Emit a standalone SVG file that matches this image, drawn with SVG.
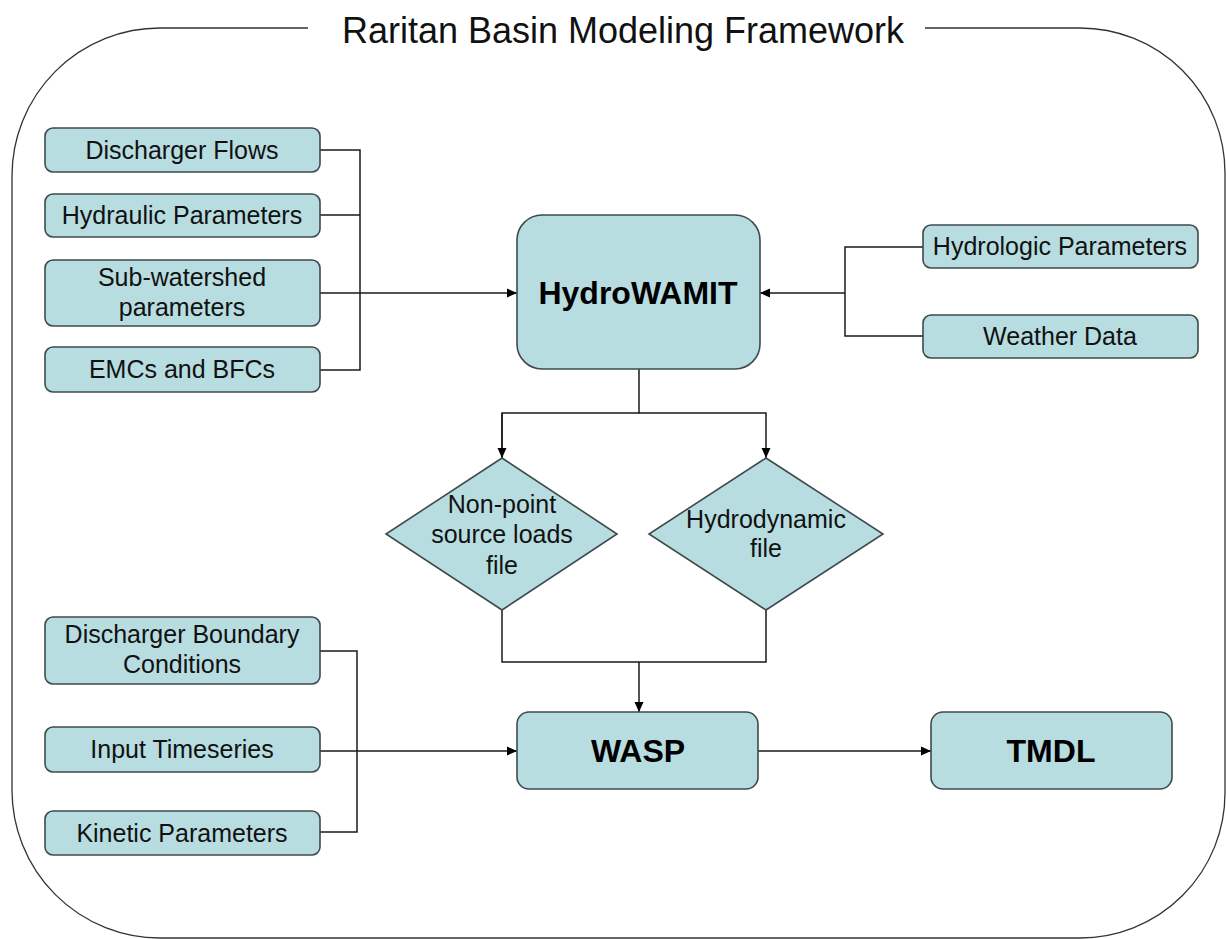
<svg xmlns="http://www.w3.org/2000/svg" width="1226" height="939" viewBox="0 0 1226 939">
<style>
.box{fill:#b7dde1;stroke:#3f4a4c;stroke-width:1.6}
.t{font-family:"Liberation Sans",Arial,sans-serif;font-size:25px;fill:#111;text-anchor:middle}
.b{font-family:"Liberation Sans",Arial,sans-serif;font-size:32px;font-weight:bold;fill:#000;text-anchor:middle}
.ln{fill:none;stroke:#1a1a1a;stroke-width:1.5}
.frame{fill:none;stroke:#333;stroke-width:1.3}
</style>
<defs>
<marker id="ah" viewBox="0 0 10 10" refX="10" refY="5" markerWidth="10" markerHeight="10" markerUnits="userSpaceOnUse" orient="auto">
<path d="M0,0.5 L10,5 L0,9.5 Z" fill="#000"/>
</marker>
</defs>
<rect width="1226" height="939" fill="#fff"/>
<g id="frame">
<path class="frame" d="M308 28 H160 A148 148 0 0 0 12 176 V790 A148 148 0 0 0 160 938 H1080 A145 145 0 0 0 1225 793 V173 A145 145 0 0 0 1080 28 H925"/>
<text x="623" y="43" font-family="'Liberation Sans',Arial,sans-serif" font-size="36" fill="#111" text-anchor="middle">Raritan Basin Modeling Framework</text>
</g>
<g id="connectors">
<path class="ln" d="M320 150 H360 V370 H320 M320 215 H360"/>
<path class="ln" d="M320 293 H517" marker-end="url(#ah)"/>
<path class="ln" d="M923 247 H845 V336 H923"/>
<path class="ln" d="M845 293 H760" marker-end="url(#ah)"/>
<path class="ln" d="M639 369 V413 H502 V458 M639 413"/>
<path class="ln" d="M502 413 V458" marker-end="url(#ah)"/>
<path class="ln" d="M639 413 H766 V458" marker-end="url(#ah)"/>
<path class="ln" d="M502 610 V662 H766 V610"/>
<path class="ln" d="M639 662 V712" marker-end="url(#ah)"/>
<path class="ln" d="M320 651 H357 V832 H320"/>
<path class="ln" d="M320 751 H517" marker-end="url(#ah)"/>
<path class="ln" d="M758 751 H931" marker-end="url(#ah)"/>
</g>
<g id="discharger-flows"><rect class="box" x="45" y="128" width="275" height="44" rx="8"/><text class="t" x="182" y="159">Discharger Flows</text></g>
<g id="hydraulic-parameters"><rect class="box" x="45" y="194" width="275" height="43" rx="8"/><text class="t" x="182" y="224">Hydraulic Parameters</text></g>
<g id="sub-watershed"><rect class="box" x="45" y="260" width="275" height="66" rx="8"/><text class="t" x="182" y="286">Sub-watershed</text><text class="t" x="182" y="316">parameters</text></g>
<g id="emcs-bfcs"><rect class="box" x="45" y="347" width="275" height="45" rx="8"/><text class="t" x="182" y="378">EMCs and BFCs</text></g>
<g id="hydrowamit"><rect class="box" x="517" y="215" width="243" height="154" rx="25"/><text class="b" x="638" y="304">HydroWAMIT</text></g>
<g id="hydrologic-parameters"><rect class="box" x="923" y="225" width="275" height="43" rx="8"/><text class="t" x="1060" y="255">Hydrologic Parameters</text></g>
<g id="weather-data"><rect class="box" x="923" y="315" width="275" height="43" rx="8"/><text class="t" x="1060" y="345">Weather Data</text></g>
<g id="nonpoint"><path class="box" d="M502 458 L617 534 L502 610 L386 534 Z"/><text class="t" x="502" y="513">Non-point</text><text class="t" x="502" y="543">source loads</text><text class="t" x="502" y="574">file</text></g>
<g id="hydrodynamic"><path class="box" d="M766 458 L883 534 L766 610 L649 534 Z"/><text class="t" x="766" y="528">Hydrodynamic</text><text class="t" x="766" y="557">file</text></g>
<g id="discharger-boundary"><rect class="box" x="45" y="617" width="275" height="67" rx="8"/><text class="t" x="182" y="643">Discharger Boundary</text><text class="t" x="182" y="673">Conditions</text></g>
<g id="input-timeseries"><rect class="box" x="45" y="727" width="275" height="45" rx="8"/><text class="t" x="182" y="758">Input Timeseries</text></g>
<g id="kinetic-parameters"><rect class="box" x="45" y="811" width="275" height="44" rx="8"/><text class="t" x="182" y="842">Kinetic Parameters</text></g>
<g id="wasp"><rect class="box" x="517" y="712" width="241" height="77" rx="12"/><text class="b" x="638" y="762">WASP</text></g>
<g id="tmdl"><rect class="box" x="931" y="712" width="241" height="77" rx="12"/><text class="b" x="1051" y="762">TMDL</text></g>
</svg>
